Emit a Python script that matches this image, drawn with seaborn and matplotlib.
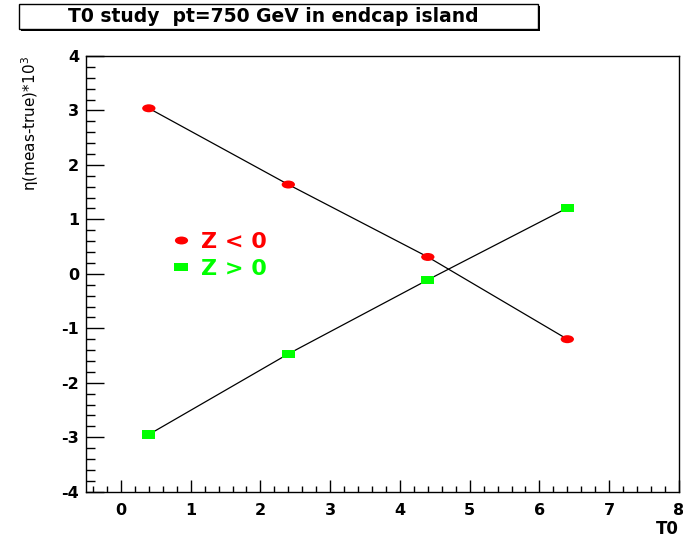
import numpy as np
import pandas as pd
import matplotlib
matplotlib.use('Agg')
import matplotlib.pyplot as plt
from matplotlib.path import Path
from matplotlib.patches import Rectangle
from matplotlib.lines import Line2D
import seaborn as sns

# data
t0 = [0.4, 2.4, 4.4, 6.4]
z_neg = [3.04, 1.64, 0.31, -1.20]
z_pos = [-2.95, -1.47, -0.11, 1.21]
series_names = ['Z < 0', 'Z > 0']
series_colors = ['#ff0000', '#00ff00']

df = pd.DataFrame({
    'T0': t0 * 2,
    'deta': z_neg + z_pos,
    'side': [series_names[0]] * len(t0) + [series_names[1]] * len(t0),
})

sns.set_style('white')
plt.rcParams['font.family'] = ['DejaVu Sans']
plt.rcParams['mathtext.default'] = 'regular'
plt.rcParams['axes.unicode_minus'] = False
for key in ['text.color', 'axes.labelcolor', 'xtick.color', 'ytick.color', 'axes.edgecolor']:
    plt.rcParams[key] = 'black'

# ROOT draws its markers squashed: flat ellipse and flat box
ell = Path.unit_circle()
ell = Path(ell.vertices * np.array([1.0, 0.6]), ell.codes)
box = Path([(-1, -0.62), (1, -0.62), (1, 0.62), (-1, 0.62), (-1, -0.62)],
           [Path.MOVETO, Path.LINETO, Path.LINETO, Path.LINETO, Path.CLOSEPOLY])
marker_map = {series_names[0]: ell, series_names[1]: box}
palette = dict(zip(series_names, series_colors))

fig = plt.figure(figsize=(6.83, 5.39), dpi=100)
ax = fig.add_axes([0.126, 0.0878, 0.868, 0.8083])

sns.lineplot(data=df, x='T0', y='deta', units='side', estimator=None,
             color='black', linewidth=0.9, ax=ax, legend=False, zorder=2)
sns.scatterplot(data=df, x='T0', y='deta', hue='side', style='side',
                palette=palette, markers=marker_map, s=92, linewidth=0,
                ax=ax, legend=False, zorder=3)

ax.set_xlim(-0.5, 8)
ax.set_ylim(-4, 4)
ax.set_xticks(np.arange(0, 9, 1))
ax.set_yticks(np.arange(-4, 5, 1))
ax.xaxis.set_minor_locator(matplotlib.ticker.MultipleLocator(0.2))
ax.yaxis.set_minor_locator(matplotlib.ticker.MultipleLocator(0.2))
ax.tick_params(axis='x', which='major', direction='in', length=8.6, width=1,
               pad=8, labelsize=11.5, bottom=True, top=False)
ax.tick_params(axis='x', which='minor', direction='in', length=4.3, width=1,
               bottom=True, top=False)
ax.tick_params(axis='y', which='major', direction='in', length=13, width=1,
               pad=5, labelsize=11.5, left=True, right=False)
ax.tick_params(axis='y', which='minor', direction='in', length=6.5, width=1,
               left=True, right=False)
for lab in ax.get_xticklabels() + ax.get_yticklabels():
    lab.set_fontweight('bold')
for sp in ax.spines.values():
    sp.set_color('black')
    sp.set_linewidth(1)

ax.set_xlabel('T0', loc='right', fontsize=12, fontweight='bold')
ax.xaxis.set_label_coords(1.0, -0.066)
ax.set_ylabel(r'η(meas-true)*10$^{3}$', loc='top', fontsize=11)
ax.yaxis.set_label_coords(-0.076, 1.0)

handles = [Line2D([], [], linestyle='none', marker=marker_map[n], color=palette[n],
                  markersize=9.5, markeredgewidth=0) for n in series_names]
leg = ax.legend(handles, series_names, loc='center left', bbox_to_anchor=(0.127, 0.542),
                frameon=False, handlelength=0.8, handletextpad=0.5, labelspacing=0.3,
                borderpad=0, prop={'size': 16, 'weight': 'bold'},
                labelcolor=series_colors)

# title box like ROOT's pave, with its small shadow on the right/bottom
fig.patches.append(Rectangle((21 / 683, (539 - 31) / 539), 519 / 683, 25 / 539,
                             transform=fig.transFigure, facecolor='black',
                             edgecolor='none'))
fig.patches.append(Rectangle((19 / 683, (539 - 29) / 539), 519 / 683, 25 / 539,
                             transform=fig.transFigure, facecolor='white',
                             edgecolor='black', linewidth=1))
fig.text(273 / 683, (539 - 16.5) / 539, 'T0 study  pt=750 GeV in endcap island',
         ha='center', va='center', fontsize=13.5, fontweight='bold')

fig.savefig('out.png', dpi=100)
